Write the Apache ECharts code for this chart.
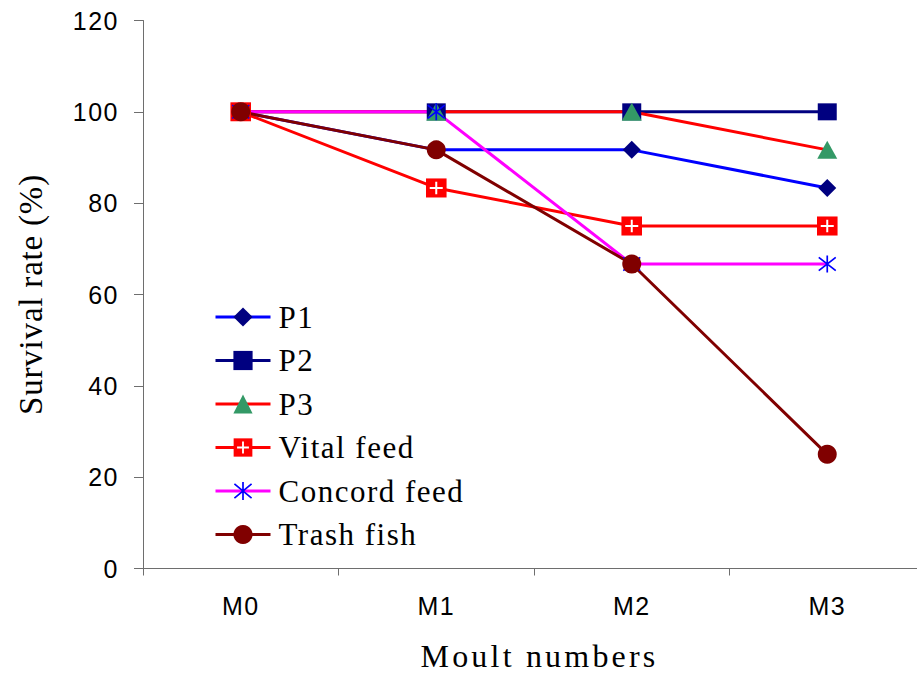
<!DOCTYPE html>
<html>
<head>
<meta charset="utf-8">
<title>Survival rate by moult</title>
<script src="https://cdn.jsdelivr.net/npm/echarts@6/dist/echarts.min.js"></script>
<style>
  html, body { margin: 0; padding: 0; background: #ffffff; }
  #chart { width: 917px; height: 675px; }
  /* widen the spacing of the serif captions and the tick labels a little */
  #chart text[style*="31px"] { letter-spacing: 1.5px; }
  #chart text[style*="32px"] { letter-spacing: 3.2px; }
  #chart text[style*="33px"] { letter-spacing: 0.8px; }
  #chart text[style*="25px"] { letter-spacing: 1.5px; }
</style>
</head>
<body>
<div id="chart"></div>
<script>
// Moult stages on the x axis
const moults = ['M0', 'M1', 'M2', 'M3'];

// Survival rate (%) per diet at each moult
const p1      = [100, 91.67, 91.67, 83.33];
const p2      = [100, 100, 100, 100];
const p3      = [100, 100, 100, 91.67];
const vital   = [100, 83.33, 75, 75];
const concord = [100, 100, 66.67, 66.67];
const trash   = [100, 91.67, 66.67, 25];

// Value axis range and step
const yMin = 0;
const yMax = 120;
const yStep = 20;

// Marker pictures that ECharts has no built-in shape for
function svgSymbol(svg) {
  return 'image://data:image/svg+xml;charset=utf-8,' + encodeURIComponent(svg);
}
const plusSquare = svgSymbol(
  '<svg xmlns="http://www.w3.org/2000/svg" width="21" height="20" viewBox="0 0 21 20">' +
  '<rect width="21" height="20" fill="#FF0000"/>' +
  '<path d="M10.5 3.5V16.5M4 10H17" stroke="#FFFFFF" stroke-width="2" fill="none"/></svg>');
const asterisk = svgSymbol(
  '<svg xmlns="http://www.w3.org/2000/svg" width="19" height="18" viewBox="0 0 19 18">' +
  '<path d="M9.5 0V18M1 2L18 16M1 16L18 2" stroke="#0000FF" stroke-width="1.7" fill="none"/></svg>');

// Look of each diet's line and marker
const diets = [
  { name: 'P1',           values: p1,      line: '#0000FF', mark: '#000080', symbol: 'diamond',  size: [18, 18] },
  { name: 'P2',           values: p2,      line: '#000080', mark: '#000080', symbol: 'rect',     size: [19, 17] },
  { name: 'P3',           values: p3,      line: '#FF0000', mark: '#339966', symbol: 'triangle', size: [20, 18] },
  { name: 'Vital feed',   values: vital,   line: '#FF0000', mark: '#FF0000', symbol: plusSquare, size: [21, 20] },
  { name: 'Concord feed', values: concord, line: '#FF00FF', mark: '#0000FF', symbol: asterisk,   size: [19, 18] },
  { name: 'Trash fish',   values: trash,   line: '#800000', mark: '#800000', symbol: 'circle',   size: [19, 19] }
];

// Markers sit above every line, so each diet gets a marker layer (first, used by the legend)
// and a plain line layer drawn underneath.
const markerSeries = diets.map(d => ({
  type: 'line',
  name: d.name,
  data: d.values,
  z: 3,
  symbol: d.symbol,
  symbolSize: d.size,
  showSymbol: true,
  showAllSymbol: true,
  symbolKeepAspect: false,
  itemStyle: { color: d.mark, borderWidth: 0, opacity: 1 },
  lineStyle: { color: d.line, width: 3, opacity: 0 },
  emphasis: { disabled: true },
  silent: true,
  animation: false
}));
const lineSeries = diets.map(d => ({
  type: 'line',
  name: d.name,
  data: d.values,
  z: 2,
  symbol: 'none',
  showSymbol: false,
  itemStyle: { color: d.line },
  lineStyle: { color: d.line, width: 3 },
  emphasis: { disabled: true },
  silent: true,
  animation: false
}));

const chart = echarts.init(document.getElementById('chart'), null, { renderer: 'svg' });

chart.setOption({
  animation: false,
  backgroundColor: '#ffffff',
  grid: {
    left: 143, top: 20.5, width: 782, height: 548,
    containLabel: false,
    outerBoundsMode: 'none'
  },
  legend: {
    orient: 'vertical',
    left: 214,
    top: 301.5,
    padding: 0,
    itemWidth: 55,
    itemHeight: 24,
    itemGap: 12.5,
    selectedMode: false,
    data: diets.map(d => d.name),
    lineStyle: { width: 3, opacity: 1 },
    itemStyle: { borderWidth: 0 },
    textStyle: {
      fontFamily: 'Liberation Serif',
      fontSize: 31,
      lineHeight: 31,
      color: '#000000',
      padding: [0, 0, 0, 3]
    }
  },
  xAxis: {
    type: 'category',
    data: moults,
    boundaryGap: true,
    name: 'Moult numbers',
    nameLocation: 'middle',
    nameGap: 71,
    nameTextStyle: {
      fontFamily: 'Liberation Serif', fontSize: 32, color: '#000000',
      padding: [0, 0, 0, 11]
    },
    axisLine: { lineStyle: { color: '#6e6e6e', width: 1 } },
    axisTick: { show: true, length: 7, inside: false, lineStyle: { color: '#6e6e6e', width: 1 } },
    axisLabel: { fontFamily: 'Liberation Sans', fontSize: 25, color: '#000000', margin: 25 },
    splitLine: { show: false }
  },
  yAxis: {
    type: 'value',
    min: yMin,
    max: yMax,
    interval: yStep,
    name: 'Survival rate (%)',
    nameLocation: 'middle',
    nameGap: 96,
    nameTextStyle: { fontFamily: 'Liberation Serif', fontSize: 33, color: '#000000' },
    axisLine: { show: true, lineStyle: { color: '#6e6e6e', width: 1 } },
    axisTick: { show: true, length: 9, inside: false, lineStyle: { color: '#6e6e6e', width: 1 } },
    axisLabel: { fontFamily: 'Liberation Sans', fontSize: 25, color: '#000000', margin: 24 },
    splitLine: { show: false }
  },
  series: markerSeries.concat(lineSeries)
});
</script>
</body>
</html>
